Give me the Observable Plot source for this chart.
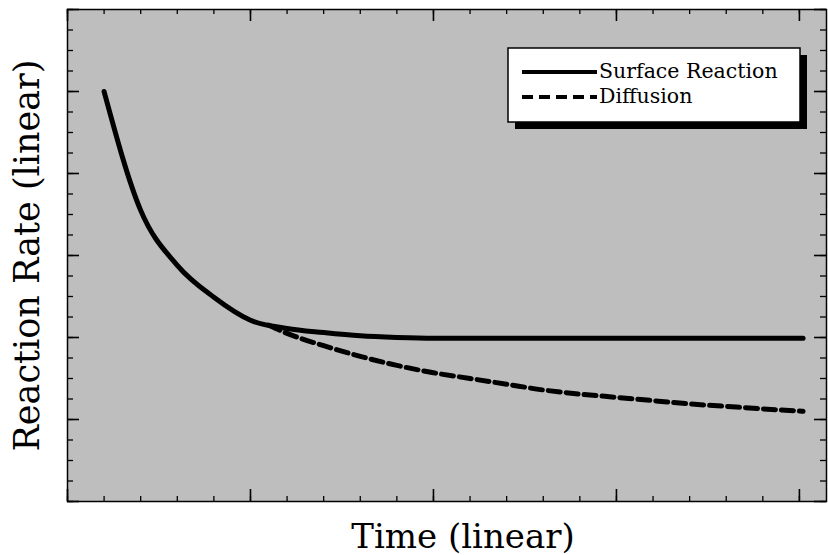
<!DOCTYPE html>
<html>
<head>
<meta charset="utf-8">
<script src="https://cdn.jsdelivr.net/npm/d3@7"></script>
<script src="https://cdn.jsdelivr.net/npm/@observablehq/plot@0.6"></script>
<style>
  html, body { margin: 0; padding: 0; background: #fff; }
  #chart { width: 828px; height: 555px; }
</style>
</head>
<body>
<div id="chart"></div>
<script>
// Surface reaction (solid)
const surfaceTime = [1, 2, 3, 4, 5, 6, 7, 8, 9, 10, 12, 14, 16, 18, 20.1];
const surfaceRate = [5.0, 3.55, 2.88, 2.49, 2.21, 2.11, 2.06, 2.02, 2.0, 1.99, 1.99, 1.99, 1.99, 1.99, 1.99];
// Diffusion (dashed)
const diffusionTime = [5.5, 6, 7, 8, 9, 10, 11, 12, 13, 14, 15, 16, 17, 18, 19, 20.1];
const diffusionRate = [2.15, 2.05, 1.90, 1.77, 1.66, 1.57, 1.50, 1.43, 1.36, 1.31, 1.27, 1.23, 1.19, 1.16, 1.13, 1.10];
// Tick positions (unlabelled)
const xMinorTicks = d3.range(0, 21, 1);
const xMajorTicks = [0, 5, 10, 15, 20];
const yMinorTicks = d3.range(0, 6.01, 0.25);
const yMajorTicks = [0, 1, 2, 3, 4, 5, 6];
const legendLabels = ["Surface Reaction", "Diffusion"];
const xLabel = "Time (linear)";
const yLabel = "Reaction Rate (linear)";

const surface = surfaceTime.map((t, i) => ({t, r: surfaceRate[i]}));
const diffusion = diffusionTime.map((t, i) => ({t, r: diffusionRate[i]}));

const W = 828, H = 555;
const mL = 67, mT = 9, mR = 2, mB = 54;
const frameH = H - mT - mB, frameW = W - mL - mR;
const font = "'DejaVu Serif', 'Liberation Serif', serif";

const plot = Plot.plot({
  width: W,
  height: H,
  marginLeft: mL, marginTop: mT, marginRight: mR, marginBottom: mB,
  style: {background: "#fff", fontFamily: font},
  x: {domain: [0, 20.74], axis: null},
  y: {domain: [0, 6], axis: null},
  marks: [
    Plot.frame({fill: "url(#stipple)", stroke: "none"}),
    // inward ticks: bottom & top
    Plot.tickX(xMinorTicks, {x: d => d, insetTop: frameH - 5, stroke: "#000", strokeWidth: 1.3}),
    Plot.tickX(xMajorTicks, {x: d => d, insetTop: frameH - 12, stroke: "#000", strokeWidth: 1.6}),
    Plot.tickX(xMinorTicks, {x: d => d, insetBottom: frameH - 5, stroke: "#000", strokeWidth: 1.3}),
    Plot.tickX(xMajorTicks, {x: d => d, insetBottom: frameH - 12, stroke: "#000", strokeWidth: 1.6}),
    // inward ticks: left & right
    Plot.tickY(yMinorTicks, {y: d => d, insetRight: frameW - 6, stroke: "#000", strokeWidth: 1.3}),
    Plot.tickY(yMajorTicks, {y: d => d, insetRight: frameW - 12, stroke: "#000", strokeWidth: 1.6}),
    Plot.tickY(yMinorTicks, {y: d => d, insetLeft: frameW - 6, stroke: "#000", strokeWidth: 1.3}),
    Plot.tickY(yMajorTicks, {y: d => d, insetLeft: frameW - 12, stroke: "#000", strokeWidth: 1.6}),
    Plot.frame({stroke: "#000", strokeWidth: 1.5}),
    Plot.line(diffusion, {x: "t", y: "r", stroke: "#000", strokeWidth: 5, strokeDasharray: "12,6", curve: "monotone-x"}),
    Plot.line(surface, {x: "t", y: "r", stroke: "#000", strokeWidth: 5, curve: "monotone-x", strokeLinejoin: "round", strokeLinecap: "round"}),
    Plot.text([xLabel], {text: d => d, frameAnchor: "bottom", dx: 16, dy: 46, fontSize: 34, fill: "#000", textAnchor: "middle"}),
    Plot.text([yLabel], {text: d => d, frameAnchor: "left", dx: -40, rotate: -90, fontSize: 35, fill: "#000", textAnchor: "middle"})
  ]
});

const svg = d3.select(plot);
const defs = svg.insert("defs", ":first-child");
const pat = defs.append("pattern").attr("id", "stipple").attr("patternUnits", "userSpaceOnUse")
  .attr("width", 2).attr("height", 2);
pat.append("rect").attr("width", 2).attr("height", 2).attr("fill", "#e2e2e2");
pat.append("rect").attr("width", 1).attr("height", 1).attr("fill", "#505050");

// Legend box (shadowed)
const lg = svg.append("g").attr("font-family", font).attr("text-anchor", "start");
lg.append("rect").attr("x", 515).attr("y", 55).attr("width", 292).attr("height", 74).attr("fill", "#000");
lg.append("rect").attr("x", 508).attr("y", 48).attr("width", 292).attr("height", 74).attr("fill", "#fff").attr("stroke", "#000").attr("stroke-width", 1.5);
const rows = [{y: 72, dash: null}, {y: 97, dash: "11,6"}];
rows.forEach((r, i) => {
  lg.append("line").attr("x1", 522).attr("x2", 597).attr("y1", r.y).attr("y2", r.y)
    .attr("stroke", "#000").attr("stroke-width", 4).attr("stroke-dasharray", r.dash);
  lg.append("text").attr("x", 599).attr("y", r.y + 6).attr("font-size", 20.5).attr("fill", "#000")
    .attr("text-anchor", "start").text(legendLabels[i]);
});

document.getElementById("chart").appendChild(plot);
</script>
</body>
</html>
